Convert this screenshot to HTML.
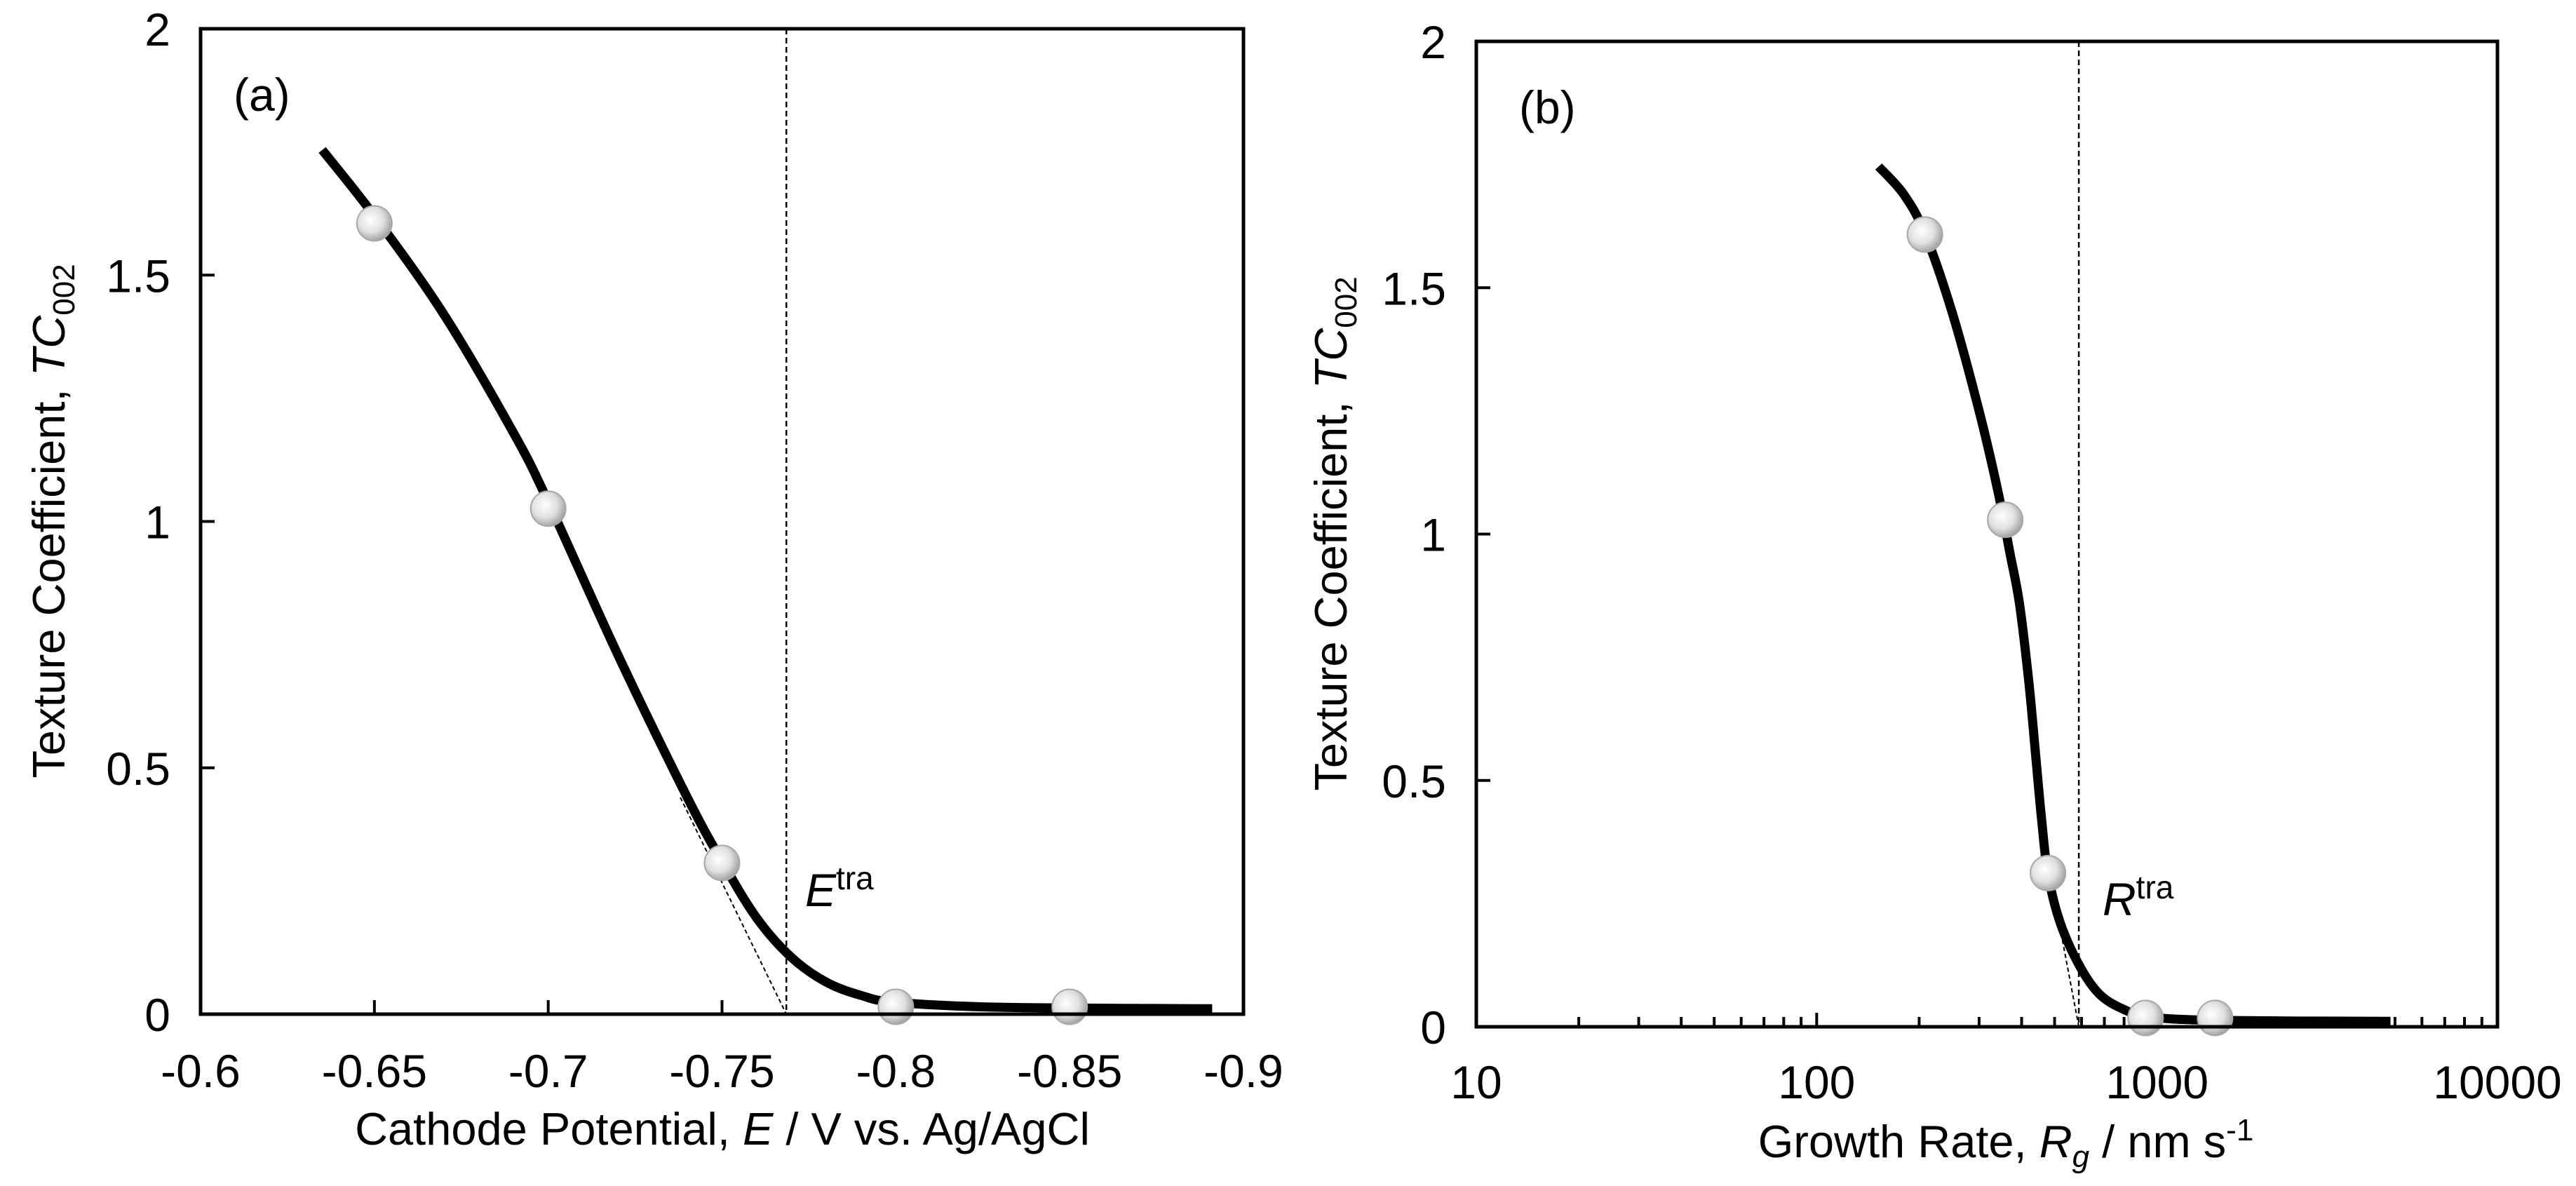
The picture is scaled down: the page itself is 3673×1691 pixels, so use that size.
<!DOCTYPE html>
<html><head><meta charset="utf-8">
<style>
html,body{margin:0;padding:0;background:#fff;}
svg{display:block;font-family:"Liberation Sans",Arial,sans-serif;}
</style></head>
<body>
<svg id="chart" width="3673" height="1691" viewBox="0 0 3673 1691" xmlns="http://www.w3.org/2000/svg">
<defs>
<radialGradient id="ballGrad" cx="0.4" cy="0.4" r="0.65">
<stop offset="0" stop-color="#ffffff"/>
<stop offset="0.55" stop-color="#e0e0e0"/>
<stop offset="1" stop-color="#9a9a9a"/>
</radialGradient>
</defs>
</svg>
<script>
// ---- Panel (a) data ----
const aXTicks = [-0.6,-0.65,-0.7,-0.75,-0.8,-0.85,-0.9];
const aXTickLabels = ["-0.6","-0.65","-0.7","-0.75","-0.8","-0.85","-0.9"];
const yTicks = [0,0.5,1,1.5,2];
const yTickLabels = ["0","0.5","1","1.5","2"];
const aPointsE = [-0.65,-0.70,-0.75,-0.80,-0.85];
const aPointsTC = [1.605,1.026,0.307,0.015,0.015];
const aCurveE = [-0.635,-0.65,-0.67,-0.69,-0.70,-0.72,-0.74,-0.75,-0.76,-0.77,-0.78,-0.79,-0.80,-0.83,-0.891];
const aCurveTC = [1.754,1.62,1.42,1.18,1.04,0.73,0.44,0.31,0.195,0.115,0.065,0.038,0.024,0.014,0.011];
const aTransE = [-0.7685];
const aTangentE = [-0.738,-0.7685];
const aTangentTC = [0.44,0.0];
// ---- Panel (b) data ----
const bXTicks = [10,100,1000,10000];
const bXTickLabels = ["10","100","1000","10000"];
const bPointsR = [208,358,478,925,1480];
const bPointsTC = [1.608,1.029,0.312,0.018,0.018];
const bCurveR = [152,180,208,250,300,340,370,394,420,440,458,478,520,596,680,800,950,1500,4850];
const bCurveTC = [1.746,1.69,1.61,1.45,1.25,1.09,0.96,0.86,0.70,0.55,0.42,0.31,0.21,0.12,0.065,0.035,0.02,0.013,0.011];
const bTransR = [589];
const bTangentR = [500,589];
const bTangentTC = [0.26,0.0];

const NS="http://www.w3.org/2000/svg";
const svg=document.getElementById('chart');
function mk(tag,attrs,parent){const e=document.createElementNS(NS,tag);for(const k in attrs)e.setAttribute(k,attrs[k]);(parent||svg).appendChild(e);return e;}

const aX=v=>286+(v-(-0.6))/(-0.3)*(1773-286);
const aY=v=>1446-v/2*(1446-41);
const bX=v=>2105+(Math.log10(v)-1)/3*(3561-2105);
const bY=v=>1464-v/2*(1464-59);

function smoothPath(xs,ys){
  let d=`M${xs[0]},${ys[0]}`;
  for(let i=0;i<xs.length-1;i++){
    const x0=xs[Math.max(i-1,0)],y0=ys[Math.max(i-1,0)];
    const x1=xs[i],y1=ys[i],x2=xs[i+1],y2=ys[i+1];
    const x3=xs[Math.min(i+2,xs.length-1)],y3=ys[Math.min(i+2,xs.length-1)];
    const c1x=x1+(x2-x0)/6,c1y=y1+(y2-y0)/6,c2x=x2-(x3-x1)/6,c2y=y2-(y3-y1)/6;
    d+=` C${c1x},${c1y} ${c2x},${c2y} ${x2},${y2}`;
  }
  return d;
}

function panel(cfg){
  const g=mk('g',{});
  
  
  const {L,R,T,B}=cfg;
  yTicks.forEach((v,i)=>{
    const y=cfg.Y(v);
    if(v>0&&v<2){
      const t=mk('line',{x1:L,x2:L+20,y1:y,y2:y,stroke:'#000','stroke-width':4},g);
      
      
    }
    const lb=mk('text',{x:L-43,y:y+24,'font-size':66,'text-anchor':'end',fill:'#000'},g);
    lb.textContent=yTickLabels[i];
    
    
  });
  cfg.xTicks.forEach((v,i)=>{
    const x=cfg.X(v);
    if(i>0&&i<cfg.xTicks.length-1){
      const t=mk('line',{x1:x,x2:x,y1:B,y2:B-20,stroke:'#000','stroke-width':4},g);
      
      
    }
    const lb=mk('text',{x:x,y:cfg.xLabelY,'font-size':66,'text-anchor':'middle',fill:'#000'},g);
    lb.textContent=cfg.xTickLabels[i];
    
    
  });
  if(cfg.log){
    for(let dec=10;dec<10000;dec*=10){
      for(let m=2;m<=9;m++){
        const x=cfg.X(dec*m);
        const t=mk('line',{x1:x,x2:x,y1:B,y2:B-14,stroke:'#000','stroke-width':4},g);
        
        
      }
    }
  }
  const tx=cfg.X(cfg.trans[0]);
  const dl=mk('line',{x1:tx,x2:tx,y1:T,y2:B,stroke:'#000','stroke-width':2.5,'stroke-dasharray':'8,5'},g);
  
  
  const tg=mk('line',{x1:cfg.X(cfg.tanX[0]),y1:cfg.Y(cfg.tanY[0]),x2:cfg.X(cfg.tanX[1]),y2:cfg.Y(cfg.tanY[1]),stroke:'#000','stroke-width':2,'stroke-dasharray':'6,4'},g);
  
  
  const cp=mk('path',{d:smoothPath(cfg.curveX.map(cfg.X),cfg.curveY.map(cfg.Y)),fill:'none',stroke:'#000','stroke-width':13,'stroke-linecap':'butt','stroke-linejoin':'round'},g);
  
  
  cfg.ptX.forEach((v,i)=>{
    const c=mk('circle',{cx:cfg.X(v),cy:cfg.Y(cfg.ptY[i]),r:25,fill:'url(#ballGrad)',stroke:'#a8a8a8','stroke-width':2},g);
    
    
  });
  const fr=mk('rect',{x:L,y:T,width:R-L,height:B-T,fill:'none',stroke:'#000','stroke-width':5},g);
  
  
  return g;
}

panel({name:'panel-a',L:286,R:1773,T:41,B:1446,X:aX,Y:aY,xTicks:aXTicks,xTickLabels:aXTickLabels,xLabelY:1550,
  trans:aTransE,tanX:aTangentE,tanY:aTangentTC,curveX:aCurveE,curveY:aCurveTC,ptX:aPointsE,ptY:aPointsTC});
panel({name:'panel-b',L:2105,R:3561,T:59,B:1464,X:bX,Y:bY,xTicks:bXTicks,xTickLabels:bXTickLabels,xLabelY:1566,log:true,
  trans:bTransR,tanX:bTangentR,tanY:bTangentTC,curveX:bCurveR,curveY:bCurveTC,ptX:bPointsR,ptY:bPointsTC});

function txt(html,attrs,name){
  const t=mk('text',attrs);
  t.innerHTML=html;
  
  
  return t;
}
txt('(a)',{x:333,y:158,'font-size':66},'panel-a-label');
txt('(b)',{x:2166,y:176,'font-size':66},'panel-b-label');
txt('<tspan font-style="italic">E</tspan><tspan font-size="46" dy="-24">tra</tspan>',{x:1148,y:1292,'font-size':66},'e-tra-label');
txt('<tspan font-style="italic">R</tspan><tspan font-size="46" dy="-24">tra</tspan>',{x:2998,y:1305,'font-size':66},'r-tra-label');
txt('Cathode Potential, <tspan font-style="italic">E</tspan> / V vs. Ag/AgCl',{x:1030,y:1632,'font-size':65,'text-anchor':'middle'},'x-axis-title-a');
txt('Growth Rate, <tspan font-style="italic">R</tspan><tspan font-style="italic" font-size="44" dy="14">g</tspan><tspan dy="-14"> / nm s</tspan><tspan font-size="44" dy="-24">-1</tspan>',{x:2860,y:1650,'font-size':65,'text-anchor':'middle'},'x-axis-title-b');
txt('Texture Coefficient, <tspan font-style="italic">TC</tspan><tspan font-size="44" dy="14">002</tspan>',{x:0,y:0,'font-size':65,'text-anchor':'middle',transform:'translate(92,743) rotate(-90)'},'y-axis-title-a');
txt('Texture Coefficient, <tspan font-style="italic">TC</tspan><tspan font-size="44" dy="14">002</tspan>',{x:0,y:0,'font-size':65,'text-anchor':'middle',transform:'translate(1920,761) rotate(-90)'},'y-axis-title-b');
</script>
</body></html>
